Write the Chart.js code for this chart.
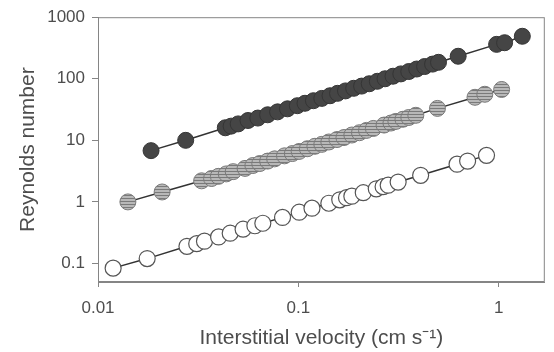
<!DOCTYPE html>
<html>
<head>
<meta charset="utf-8">
<script src="https://cdn.jsdelivr.net/npm/chart.js@4"></script>
<style>
  body { margin: 0; background: #fff; }
</style>
</head>
<body>
<canvas id="myChart" width="554" height="352"></canvas>
<script>
// interstitial velocity (cm s-1) and Reynolds number, three sets
var velocityDark = [0.0184, 0.0274, 0.0432, 0.0462, 0.0501, 0.0561, 0.0628, 0.0703, 0.0788, 0.0883, 0.0989, 0.108, 0.119, 0.131, 0.144, 0.157, 0.172, 0.189, 0.207, 0.226, 0.248, 0.271, 0.297, 0.325, 0.356, 0.390, 0.427, 0.468, 0.501, 0.628, 0.977, 1.071, 1.313];
var reynoldsDark = [6.8, 10, 16, 17, 18.5, 21, 23, 26, 29, 32.5, 36.5, 40, 44, 48, 53, 58, 63.5, 70, 76, 83, 91, 100, 110, 120, 131, 144, 158, 173, 185, 232, 362, 385, 490];

var velocityGrey = [0.0141, 0.0209, 0.0329, 0.0369, 0.0399, 0.0437, 0.0473, 0.0542, 0.0593, 0.0642, 0.0703, 0.0762, 0.0853, 0.0934, 0.101, 0.111, 0.121, 0.131, 0.142, 0.156, 0.169, 0.185, 0.202, 0.219, 0.237, 0.268, 0.290, 0.307, 0.333, 0.356, 0.386, 0.495, 0.762, 0.853, 1.035];
var reynoldsGrey = [1.0, 1.45, 2.2, 2.4, 2.6, 2.85, 3.1, 3.5, 3.9, 4.2, 4.6, 5.0, 5.6, 6.1, 6.6, 7.3, 8.0, 8.6, 9.4, 10.3, 11.1, 12.2, 13.3, 14.5, 15.6, 17.7, 19.1, 20.3, 22, 23.5, 25.5, 33, 50, 56, 67];

var velocityWhite = [0.0119, 0.0176, 0.0278, 0.0311, 0.034, 0.040, 0.0457, 0.053, 0.0607, 0.0665, 0.0834, 0.101, 0.117, 0.142, 0.161, 0.174, 0.185, 0.211, 0.245, 0.265, 0.281, 0.315, 0.408, 0.62, 0.70, 0.87];
var reynoldsWhite = [0.084, 0.12, 0.19, 0.21, 0.23, 0.27, 0.31, 0.36, 0.41, 0.45, 0.56, 0.68, 0.79, 0.95, 1.08, 1.17, 1.24, 1.41, 1.63, 1.77, 1.87, 2.1, 2.7, 4.1, 4.6, 5.7];

var xTicks = [0.01, 0.1, 1];
var yTicks = [0.1, 1, 10, 100, 1000];

function toPoints(xs, ys) {
    var pts = [];
    for (var i = 0; i < xs.length; i++) {
        pts.push({ x: xs[i], y: ys[i] });
    }
    return pts;
}

// striped fill for the middle series
function makeHatch() {
    var c = document.createElement('canvas');
    c.width = 4;
    c.height = 3;
    var g = c.getContext('2d');
    g.fillStyle = '#b8b8b8';
    g.fillRect(0, 0, 4, 3);
    g.fillStyle = '#7a7a7a';
    g.fillRect(0, 0, 4, 1);
    return g.createPattern(c, 'repeat');
}

var frame = {
    id: 'frame',
    afterDraw: function (chart) {
        var a = chart.chartArea;
        var ctx = chart.ctx;
        ctx.save();
        ctx.strokeStyle = '#858585';
        ctx.lineWidth = 1;
        ctx.strokeRect(a.left + 0.5, a.top + 0.5, a.right - a.left - 1, a.bottom - a.top - 1);
        ctx.restore();
    }
};

var textColor = '#4d4d4d';
var fontFamily = '"Liberation Sans", Arial, sans-serif';

var ctx = document.getElementById('myChart').getContext('2d');
var myChart = new Chart(ctx, {
    type: 'line',
    data: {
        datasets: [{
            data: toPoints(velocityDark, reynoldsDark),
            borderColor: '#333',
            borderWidth: 1.5,
            pointRadius: 8,
            pointBackgroundColor: '#454545',
            pointBorderColor: '#353535',
            pointBorderWidth: 1
        },
        {
            data: toPoints(velocityGrey, reynoldsGrey),
            borderColor: '#333',
            borderWidth: 1.5,
            pointRadius: 8,
            pointBackgroundColor: makeHatch(),
            pointBorderColor: '#7a7a7a',
            pointBorderWidth: 1
        },
        {
            data: toPoints(velocityWhite, reynoldsWhite),
            borderColor: '#333',
            borderWidth: 1.5,
            pointRadius: 8,
            pointBackgroundColor: '#fff',
            pointBorderColor: '#555',
            pointBorderWidth: 1.2
        }]
    },
    options: {
        responsive: false,
        animation: false,
        layout: { padding: { top: 17, right: 3, left: 0, bottom: 0 } },
        plugins: {
            legend: { display: false },
            tooltip: { enabled: false }
        },
        scales: {
            x: {
                type: 'logarithmic',
                min: 0.01,
                max: 1.7,
                afterBuildTicks: function (axis) {
                    axis.ticks = xTicks.map(function (v) { return { value: v }; });
                },
                afterFit: function (axis) { axis.height = 70; },
                border: { color: '#858585' },
                grid: { drawOnChartArea: false, tickLength: 5, color: '#858585' },
                ticks: {
                    color: textColor,
                    padding: 11,
                    maxRotation: 0,
                    font: { family: fontFamily, size: 17 },
                    callback: function (v) { return String(v); }
                },
                title: {
                    display: true,
                    text: 'Interstitial velocity (cm s⁻¹)',
                    color: textColor,
                    padding: { top: 0, bottom: 1 },
                    font: { family: fontFamily, size: 21 }
                }
            },
            y: {
                type: 'logarithmic',
                min: 0.05,
                max: 1000,
                afterBuildTicks: function (axis) {
                    axis.ticks = yTicks.map(function (v) { return { value: v }; });
                },
                afterFit: function (axis) { axis.width = 98; },
                border: { color: '#858585' },
                grid: { drawOnChartArea: false, tickLength: 6, color: '#858585' },
                ticks: {
                    color: textColor,
                    padding: 7,
                    font: { family: fontFamily, size: 17 },
                    callback: function (v) { return String(v); }
                },
                title: {
                    display: true,
                    text: 'Reynolds number',
                    color: textColor,
                    padding: { top: 16, bottom: 0 },
                    font: { family: fontFamily, size: 21 }
                }
            }
        }
    },
    plugins: [frame]
});
</script>
</body>
</html>
